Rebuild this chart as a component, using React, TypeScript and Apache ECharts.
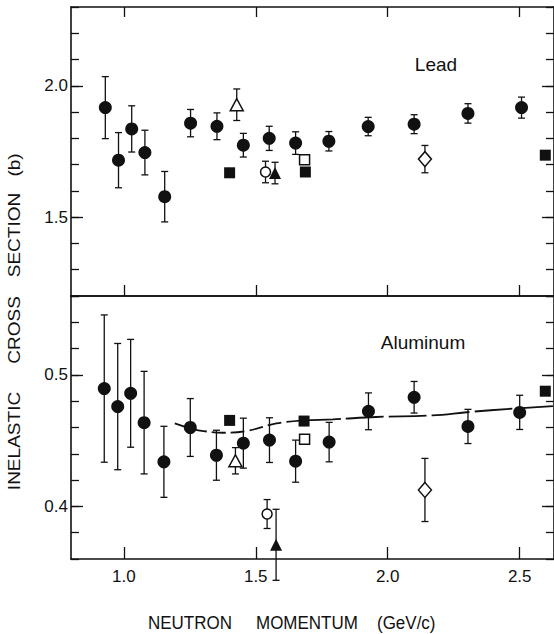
import React, { useEffect, useRef } from "react";
import * as echarts from "echarts";

// ---------- DATA ----------
// Lead panel: [momentum (GeV/c), cross section (b), error (b)]
const leadCircles = [
  [0.93, 1.917, 0.118],
  [0.98, 1.717, 0.105],
  [1.03, 1.836, 0.088],
  [1.08, 1.746, 0.085],
  [1.155, 1.578, 0.096],
  [1.253, 1.858, 0.052],
  [1.353, 1.846, 0.051],
  [1.453, 1.774, 0.045],
  [1.551, 1.8, 0.046],
  [1.651, 1.782, 0.043],
  [1.777, 1.789, 0.037],
  [1.926, 1.845, 0.035],
  [2.1, 1.854, 0.036],
  [2.304, 1.895, 0.037],
  [2.507, 1.917, 0.04],
];
const leadOpenTriangle = [[1.428, 1.928, 0.06]];
const leadFilledSquares = [[1.401, 1.669], [1.688, 1.672], [2.597, 1.736]];
const leadOpenCircle = [[1.537, 1.672, 0.041]];
const leadFilledTriangle = [[1.573, 1.668, 0.041]];
const leadOpenSquare = [[1.685, 1.719]];
const leadOpenDiamond = [[2.141, 1.721, 0.052]];

// Aluminum panel
const aluminumCircles = [
  [0.926, 0.4896, 0.056],
  [0.977, 0.4759, 0.048],
  [1.026, 0.486, 0.041],
  [1.077, 0.4637, 0.039],
  [1.152, 0.4339, 0.027],
  [1.252, 0.46, 0.022],
  [1.351, 0.4389, 0.019],
  [1.453, 0.4481, 0.019],
  [1.552, 0.4504, 0.017],
  [1.651, 0.4344, 0.016],
  [1.778, 0.4489, 0.015],
  [1.927, 0.4723, 0.014],
  [2.1, 0.483, 0.012],
  [2.304, 0.4608, 0.013],
  [2.5, 0.4715, 0.013],
];
const aluminumFilledSquares = [[1.401, 0.4654], [1.683, 0.4649], [2.597, 0.4876]];
const aluminumOpenTriangle = [[1.423, 0.4347, 0.01]];
const aluminumOpenCircle = [[1.543, 0.3942, 0.011]];
const aluminumFilledTriangle = [[1.577, 0.3708, 0.027]];
const aluminumOpenSquare = [[1.685, 0.4511]];
const aluminumOpenDiamond = [[2.141, 0.4125, 0.024]];
const aluminumCurve = [
  [1.193, 0.4631], [1.25, 0.4595], [1.302, 0.4573], [1.377, 0.456], [1.465, 0.4573],
  [1.578, 0.4631], [1.678, 0.4654], [1.792, 0.4662], [1.956, 0.468], [2.169, 0.4692],
  [2.308, 0.4718], [2.472, 0.4743], [2.626, 0.4763],
];

const xTickValues = [1.0, 1.5, 2.0, 2.5];
const leadYLabels = [1.5, 2.0];
const aluminumYLabels = [0.4, 0.5];

// ---------- STYLE ----------
const INK = "#111";
const FONT = '"Liberation Sans", Arial, sans-serif';
const AXW = 1.6;

function errorRender(params: any, api: any) {
  const x = api.value(0);
  const y = api.value(1);
  const e = api.value(2);
  const top = api.coord([x, y + e]);
  const bot = api.coord([x, y - e]);
  const hw = 3.5;
  const style = { stroke: INK, lineWidth: 1.3, fill: "none" };
  return {
    type: "group",
    children: [
      { type: "line", shape: { x1: top[0], y1: top[1], x2: bot[0], y2: bot[1] }, style },
      { type: "line", shape: { x1: top[0] - hw, y1: top[1], x2: top[0] + hw, y2: top[1] }, style },
      { type: "line", shape: { x1: bot[0] - hw, y1: bot[1], x2: bot[0] + hw, y2: bot[1] }, style },
    ],
  };
}

function withErr(...arrs: number[][][]) {
  const out: number[][] = [];
  arrs.forEach((a) => a.forEach((p) => { if (p.length === 3) out.push(p); }));
  return out;
}

function scatter(name: string, data: number[][], xi: number, yi: number, symbol: string, size: any, open: boolean) {
  return {
    name,
    type: "scatter",
    xAxisIndex: xi,
    yAxisIndex: yi,
    data: data.map((p) => [p[0], p[1]]),
    symbol,
    symbolSize: size,
    z: 4,
    itemStyle: open
      ? { color: "#fff", borderColor: INK, borderWidth: 1.5, opacity: 1 }
      : { color: INK, borderWidth: 0, opacity: 1 },
  };
}

function xAxes(gridIndex: number, bottomTickLen: number, topTickLen: number, labels: boolean) {
  return [
    {
      gridIndex,
      type: "value",
      position: "bottom",
      min: 0.8,
      max: 2.63,
      axisLine: { show: true, onZero: false, lineStyle: { color: INK, width: AXW } },
      axisTick: { show: true, inside: true, length: bottomTickLen, customValues: xTickValues, lineStyle: { color: INK, width: 1.3 } },
      axisLabel: labels
        ? {
            show: true,
            customValues: xTickValues,
            formatter: (v: number) => v.toFixed(1),
            margin: 9,
            color: INK,
            fontFamily: FONT,
            fontSize: 17,
          }
        : { show: false },
      splitLine: { show: false },
    },
    {
      gridIndex,
      type: "value",
      position: "top",
      min: 0.8,
      max: 2.63,
      axisLine: { show: true, onZero: false, lineStyle: { color: INK, width: AXW } },
      axisTick: topTickLen > 0
        ? { show: true, inside: true, length: topTickLen, customValues: xTickValues, lineStyle: { color: INK, width: 1.3 } }
        : { show: false },
      axisLabel: { show: false },
      splitLine: { show: false },
    },
  ];
}

function yAxes(gridIndex: number, min: number, max: number, interval: number, majors: number[]) {
  const base = {
    gridIndex,
    type: "value",
    min,
    max,
    interval,
    splitLine: { show: false },
  };
  return [
    {
      ...base,
      position: "left",
      axisLine: { show: true, onZero: false, lineStyle: { color: INK, width: AXW } },
      axisTick: { show: true, inside: true, length: 8, lineStyle: { color: INK, width: 1.3 } },
      axisLabel: {
        show: true,
        customValues: majors,
        formatter: (v: number) => v.toFixed(1),
        margin: 3,
        color: INK,
        fontFamily: FONT,
        fontSize: 17,
      },
    },
    {
      ...base,
      position: "left",
      axisLine: { show: false },
      axisTick: { show: true, inside: true, length: 12, customValues: majors, lineStyle: { color: INK, width: 1.3 } },
      axisLabel: { show: false },
    },
    {
      ...base,
      position: "right",
      axisLine: { show: true, onZero: false, lineStyle: { color: INK, width: AXW } },
      axisTick: { show: true, inside: true, length: 8, lineStyle: { color: INK, width: 1.3 } },
      axisLabel: { show: false },
    },
    {
      ...base,
      position: "right",
      axisLine: { show: false },
      axisTick: { show: true, inside: true, length: 12, customValues: majors, lineStyle: { color: INK, width: 1.3 } },
      axisLabel: { show: false },
    },
  ];
}

function txt(text: string, x: number, y: number, size: number, rotation = 0, align = "center", stretch = 1) {
  return {
    type: "text",
    x,
    y,
    rotation,
    scaleX: rotation ? stretch : 1,
    scaleY: rotation ? 1 : stretch,
    silent: true,
    style: {
      text,
      fill: INK,
      fontFamily: FONT,
      fontSize: size,
      textAlign: align,
      textVerticalAlign: "middle",
      align,
      verticalAlign: "middle",
    },
  };
}

export default function App() {
  const ref = useRef<HTMLDivElement>(null);

  useEffect(() => {
    if (!ref.current) return;
    const chart = echarts.init(ref.current, undefined, { renderer: "svg" });

    const curveLeft = aluminumCurve.filter((p) => p[0] <= 1.68);
    const curveRight = aluminumCurve.filter((p) => p[0] >= 1.678);

    const option: any = {
      animation: false,
      backgroundColor: "#fff",
      grid: [
        { left: 71, top: 7, width: 485, height: 289 },
        { left: 71, top: 296, width: 485, height: 263 },
      ],
      xAxis: [...xAxes(0, 11, 10, false), ...xAxes(1, 12, 0, true)],
      yAxis: [
        ...yAxes(0, 1.2, 2.3, 0.1, leadYLabels),
        ...yAxes(1, 0.36, 0.56, 0.02, aluminumYLabels),
      ],
      series: [
        // Lead error bars
        {
          type: "custom",
          xAxisIndex: 0,
          yAxisIndex: 0,
          clip: false,
          z: 2,
          renderItem: errorRender,
          encode: { x: 0, y: 1 },
          data: withErr(leadCircles, leadOpenTriangle, leadOpenCircle, leadFilledTriangle, leadOpenDiamond),
        },
        scatter("Pb circles", leadCircles, 0, 0, "circle", 13, false),
        scatter("Pb filled squares", leadFilledSquares, 0, 0, "rect", 11, false),
        scatter("Pb open triangle", leadOpenTriangle, 0, 0, "triangle", [13, 12], true),
        scatter("Pb open circle", leadOpenCircle, 0, 0, "circle", 10, true),
        scatter("Pb filled triangle", leadFilledTriangle, 0, 0, "triangle", [12, 12], false),
        scatter("Pb open square", leadOpenSquare, 0, 0, "rect", 10, true),
        scatter("Pb open diamond", leadOpenDiamond, 0, 0, "diamond", [13, 15], true),
        // Aluminum error bars
        {
          type: "custom",
          xAxisIndex: 2,
          yAxisIndex: 4,
          clip: false,
          z: 2,
          renderItem: errorRender,
          encode: { x: 0, y: 1 },
          data: withErr(aluminumCircles, aluminumOpenTriangle, aluminumOpenCircle, aluminumFilledTriangle, aluminumOpenDiamond),
        },
        {
          type: "line",
          xAxisIndex: 2,
          yAxisIndex: 4,
          data: curveLeft,
          smooth: 0.4,
          showSymbol: false,
          symbol: "none",
          z: 1,
          lineStyle: { color: INK, width: 1.8, type: [14, 5] },
        },
        {
          type: "line",
          xAxisIndex: 2,
          yAxisIndex: 4,
          data: curveRight,
          smooth: 0.4,
          showSymbol: false,
          symbol: "none",
          z: 1,
          lineStyle: { color: INK, width: 1.8, type: [38, 5] },
        },
        scatter("Al circles", aluminumCircles, 2, 4, "circle", 13, false),
        scatter("Al filled squares", aluminumFilledSquares, 2, 4, "rect", 11, false),
        scatter("Al open triangle", aluminumOpenTriangle, 2, 4, "triangle", [13, 12], true),
        scatter("Al open circle", aluminumOpenCircle, 2, 4, "circle", 10, true),
        scatter("Al filled triangle", aluminumFilledTriangle, 2, 4, "triangle", [12, 12], false),
        scatter("Al open square", aluminumOpenSquare, 2, 4, "rect", 10, true),
        scatter("Al open diamond", aluminumOpenDiamond, 2, 4, "diamond", [13, 15], true),
      ],
      graphic: [
        txt("Lead", 436, 64.5, 19),
        txt("Aluminum", 423, 342.5, 19),
        txt("NEUTRON", 148, 622.5, 17, 0, "left", 1.12),
        txt("MOMENTUM", 256, 622.5, 17, 0, "left", 1.12),
        txt("(GeV/c)", 377, 622.5, 17, 0, "left", 1.12),
        txt("INELASTIC", 14, 441, 17, Math.PI / 2, "center", 1.12),
        txt("CROSS", 14, 330, 17, Math.PI / 2, "center", 1.12),
        txt("SECTION", 14, 235, 17, Math.PI / 2, "center", 1.12),
        txt("(b)", 14, 165, 17, Math.PI / 2, "center", 1.12),
      ],
    };

    chart.setOption(option);
    return () => chart.dispose();
  }, []);

  return (
    <div
      ref={ref}
      style={{ position: "absolute", left: 0, top: 0, width: 554, height: 634, background: "#fff" }}
    />
  );
}
